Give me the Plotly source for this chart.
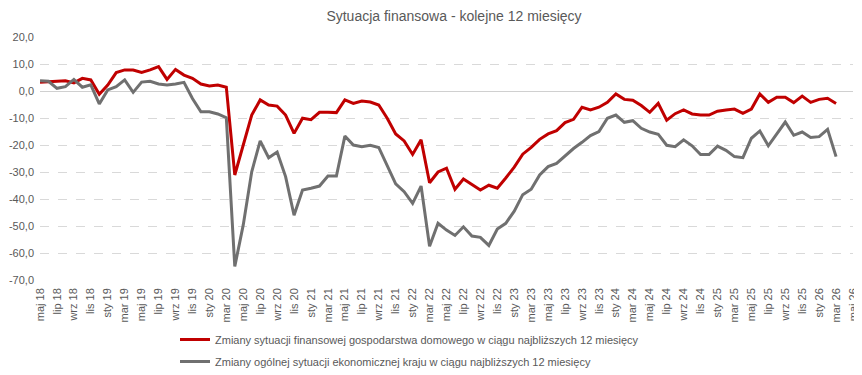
import plotly.graph_objects as go

month_abbr = ["sty", "lut", "mar", "kwi", "maj", "cze", "lip", "sie", "wrz", "paź", "lis", "gru"]
# categories: maj 18 .. maj 26
categories = []
y, m = 2018, 4
while (y, m) <= (2026, 4):
    categories.append(f"{month_abbr[m]} {str(y)[2:]}")
    m += 1
    if m == 12:
        m = 0
        y += 1

series_household_name = "Zmiany sytuacji finansowej gospodarstwa domowego w ciągu najbliższych 12 miesięcy"
series_household = [
    3.2, 3.3, 3.6, 3.8, 3.0, 4.7, 4.1, -1.2, 2.2, 6.8,
    7.8, 7.8, 6.9, 7.8, 9.0, 4.3, 8.0, 5.9, 4.7, 2.6,
    1.9, 2.2, 1.4, -31.1, -20.0, -8.9, -3.3, -5.2, -5.6, -8.9,
    -15.7, -10.1, -10.6, -7.9, -7.9, -8.0, -3.3, -4.6, -3.7, -4.1,
    -5.2, -10.1, -15.9, -18.5, -23.5, -18.1, -34.0, -30.0, -28.6, -36.4,
    -32.6, -34.5, -36.7, -34.9, -36.0, -32.2, -28.2, -23.4, -20.9, -17.9,
    -15.9, -14.7, -11.7, -10.5, -6.0, -7.0, -6.0, -4.2, -1.1, -3.1,
    -3.4, -5.4, -7.9, -4.6, -10.8, -8.4, -7.0, -8.5, -8.9, -8.9,
    -7.5, -7.0, -6.7, -8.3, -6.7, -1.1, -4.2, -2.3, -2.3, -4.3,
    -1.9, -4.2, -3.1, -2.7, -4.6,
]

series_country_name = "Zmiany ogólnej sytuacji ekonomicznej kraju w ciągu najbliższych 12 miesięcy"
series_country = [
    3.8, 3.6, 1.0, 1.6, 4.3, 1.4, 2.3, -4.8, 0.4, 1.6,
    4.1, -0.5, 3.3, 3.6, 2.6, 2.2, 2.6, 3.2, -2.8, -7.7,
    -7.7, -8.5, -9.9, -65.0, -49.6, -29.9, -18.5, -24.7, -22.6, -31.7,
    -46.0, -36.7, -36.0, -35.2, -31.5, -31.5, -16.7, -20.0, -20.6, -20.1,
    -20.9, -27.8, -34.4, -37.3, -41.6, -35.2, -57.5, -49.0, -51.5, -53.5,
    -50.3, -53.7, -54.2, -57.2, -51.1, -49.0, -44.5, -38.4, -36.4, -31.1,
    -28.0, -26.8, -24.0, -21.3, -19.0, -16.5, -15.0, -10.1, -8.9, -11.6,
    -11.0, -13.8, -15.2, -16.0, -20.1, -20.6, -18.1, -20.3, -23.5, -23.5,
    -20.4, -22.0, -24.3, -24.7, -17.5, -14.8, -20.3, -15.7, -11.5, -16.4,
    -15.2, -17.2, -16.9, -14.2, -24.3,
]

y_tickvals = [20, 10, 0, -10, -20, -30, -40, -50, -60, -70]
y_ticktext = ["20,0", "10,0", "0,0", "-10,0", "-20,0", "-30,0", "-40,0", "-50,0", "-60,0", "-70,0"]

title_text = "Sytuacja finansowa - kolejne 12 miesięcy"

FONT = "Liberation Sans, Arial, sans-serif"
TXT = "#595959"

# the page body adds an 8px offset, so the figure is 8px smaller than the window
W, H = 854, 367

fig = go.Figure()
fig.add_trace(go.Scatter(
    x=categories[:len(series_household)], y=series_household, mode="lines",
    name=series_household_name, line=dict(color="#c00000", width=3),
    legendgroup="a",
))
fig.add_trace(go.Scatter(
    x=categories[:len(series_country)], y=series_country, mode="lines",
    name=series_country_name, line=dict(color="#707070", width=3),
    legendgroup="b",
))

fig.update_layout(
    width=W, height=H,
    margin=dict(l=32, r=9, t=29, b=95, autoexpand=False),
    paper_bgcolor="white", plot_bgcolor="white",
    font=dict(family=FONT, size=11, color=TXT),
    title=dict(text=title_text, x=446 / W, xref="container", xanchor="center",
               y=1 - 8 / H, yref="container", yanchor="middle",
               font=dict(family=FONT, size=14, color=TXT)),
    showlegend=True,
    legend=dict(orientation="v", x=167 / W, xref="container", xanchor="left",
                y=1 - 317 / H, yref="container", yanchor="top",
                font=dict(family=FONT, size=11, color=TXT),
                bgcolor="rgba(0,0,0,0)", itemwidth=30,
                traceorder="grouped", tracegroupgap=3),
)
fig.update_xaxes(
    type="category", categoryorder="array", categoryarray=categories,
    range=[0, len(categories) - 1], automargin=False,
    tickmode="array", tickvals=categories[::2], ticktext=categories[::2],
    tickangle=-90, showgrid=False, zeroline=False, showline=False,
    ticks="", ticklabelstandoff=5, tickfont=dict(family=FONT, size=11, color=TXT),
)
fig.update_yaxes(
    range=[-70, 20], tickmode="array", tickvals=y_tickvals, ticktext=y_ticktext,
    automargin=False,
    showgrid=True, gridcolor="#d9d9d9", griddash="dash", gridwidth=1,
    zeroline=True, zerolinecolor="#d0d0d0", zerolinewidth=1,
    showline=False, ticks="", ticklabelstandoff=5,
    tickfont=dict(family=FONT, size=11, color=TXT),
)

fig.write_html("out.html")
